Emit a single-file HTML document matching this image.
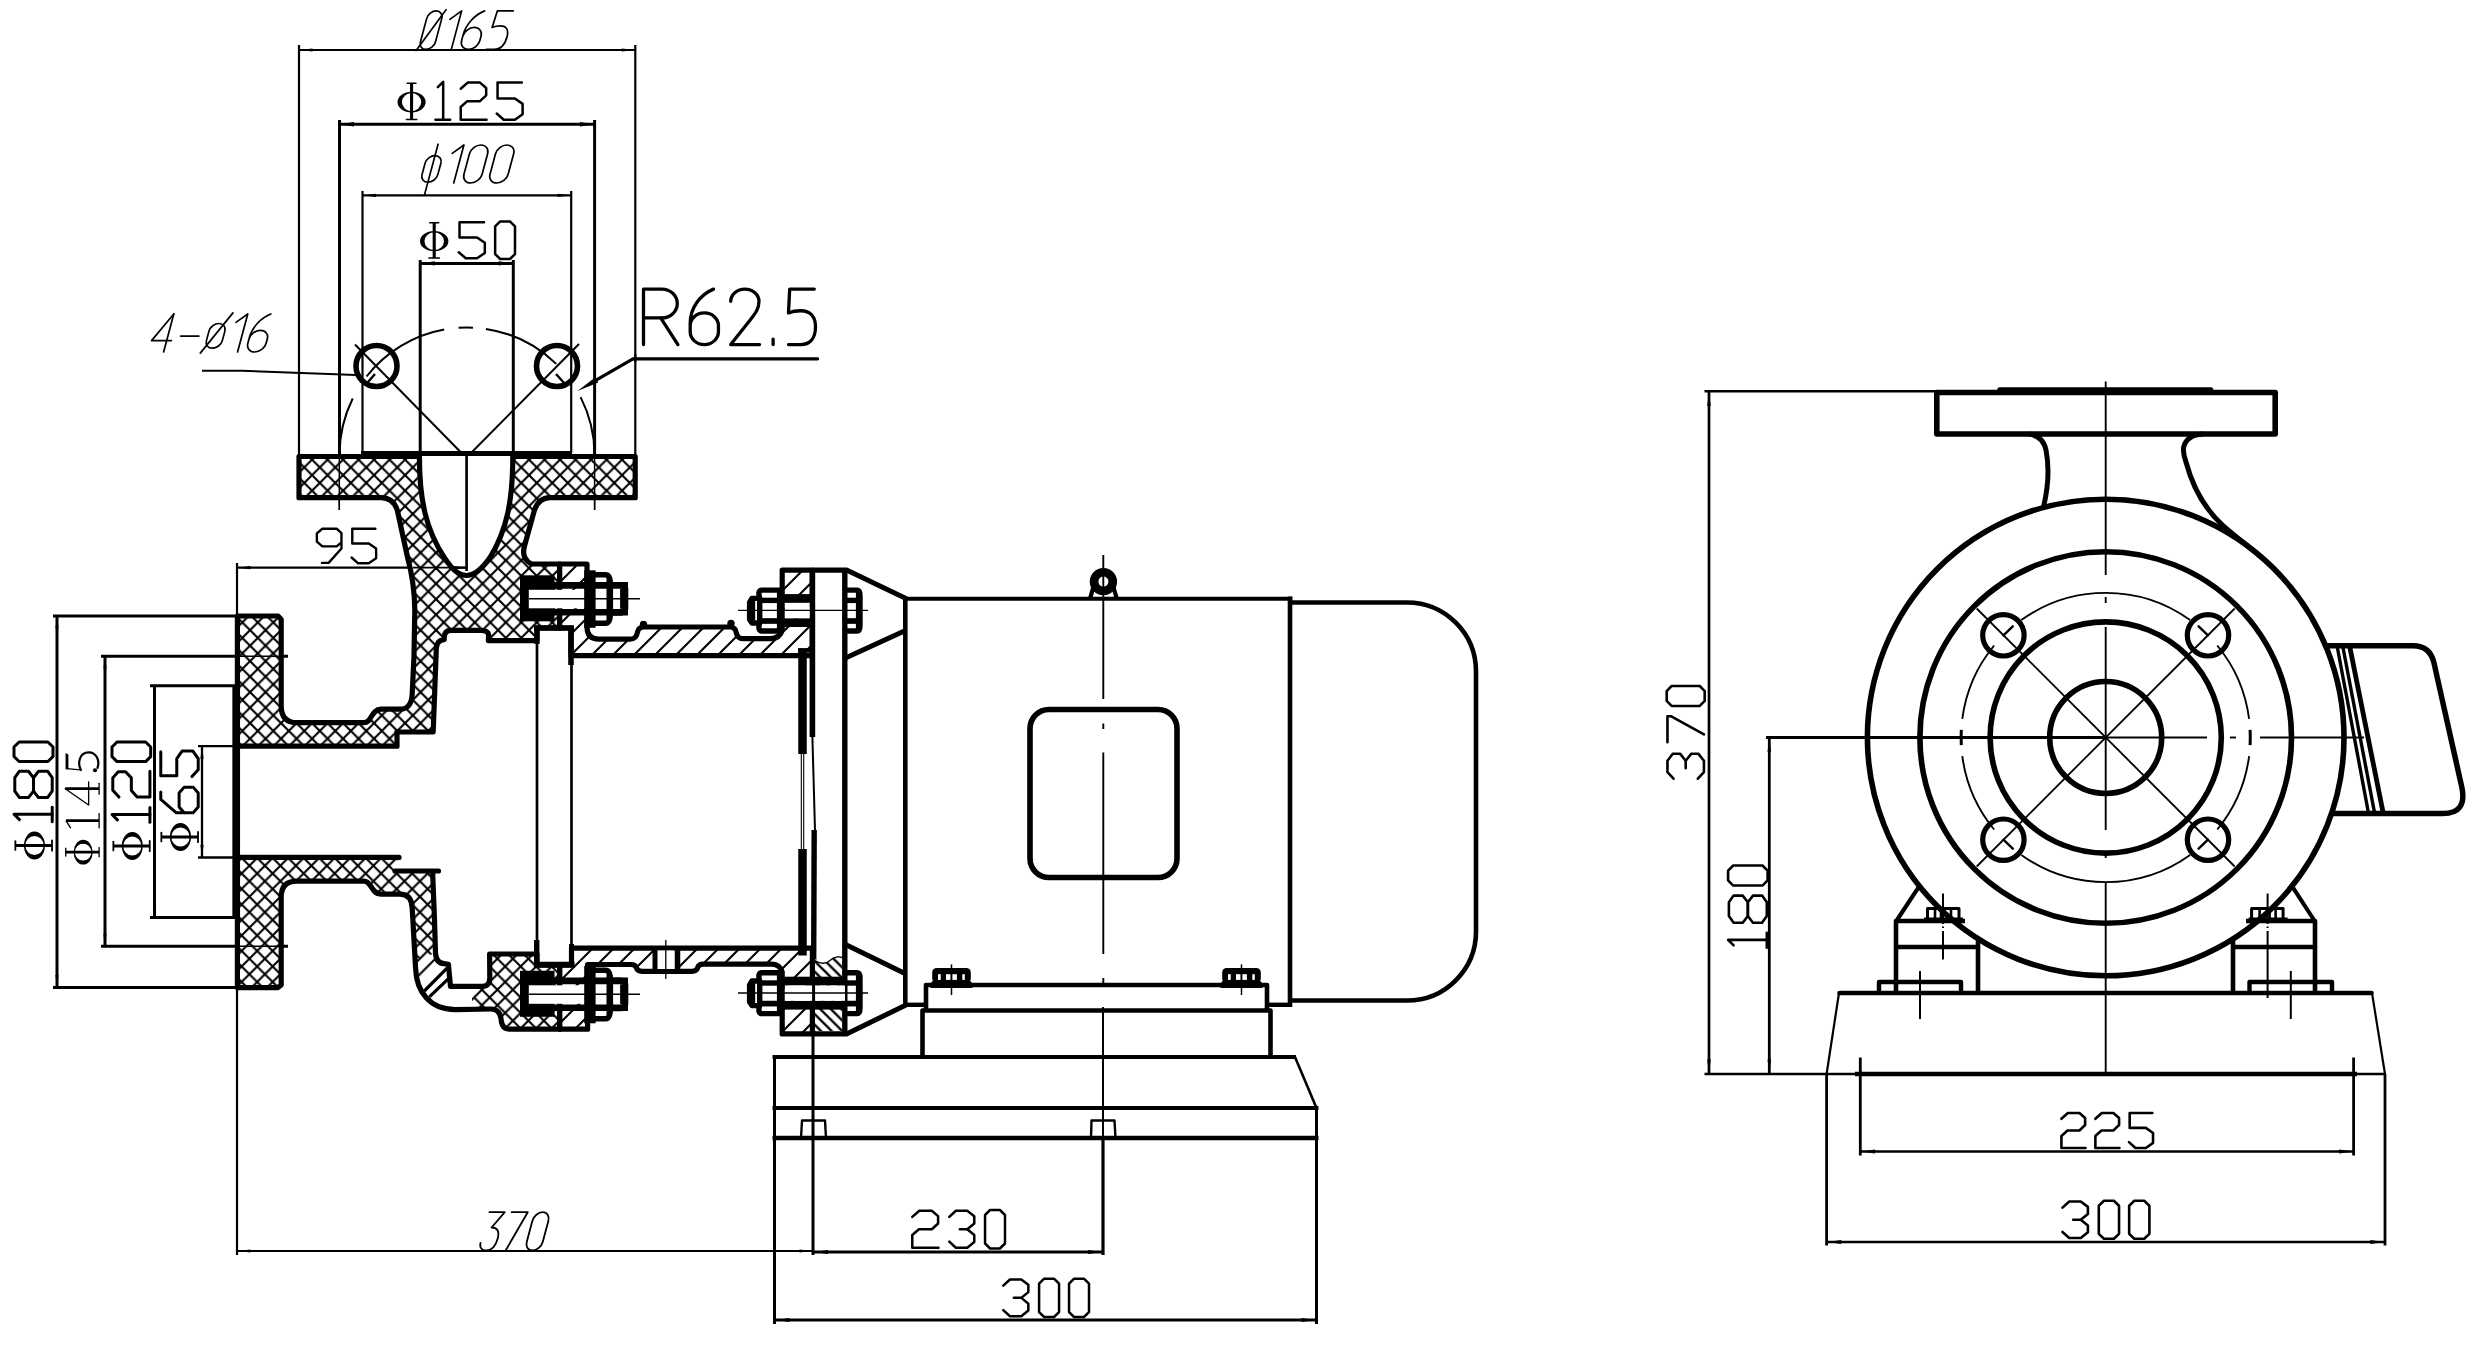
<!DOCTYPE html>
<html><head><meta charset="utf-8"><title>Pump drawing</title>
<style>html,body{margin:0;padding:0;background:#fff;font-family:"Liberation Sans",sans-serif}svg{display:block}</style>
</head><body>
<svg width="2482" height="1360" viewBox="0 0 2482 1360">
<rect width="2482" height="1360" fill="#fff"/>
<defs><pattern id="xh" width="15.5" height="15.5" patternUnits="userSpaceOnUse" x="9.8" y="2.4"><rect width="15.5" height="15.5" fill="#fff"/><path d="M-1,16.5 L16.5,-1 M-1,1 L1,-1 M14.5,16.5 L16.5,14.5" stroke="#000" stroke-width="2.1" fill="none"/><path d="M-1,-1 L16.5,16.5 M14.5,-1 L16.5,1 M-1,14.5 L1,16.5" stroke="#000" stroke-width="2.1" fill="none"/></pattern><pattern id="sh" width="15.5" height="15.5" patternUnits="userSpaceOnUse" x="14.6" y="0"><rect width="15.5" height="15.5" fill="#fff"/><path d="M-1,16.5 L16.5,-1 M-1,1 L1,-1 M14.5,16.5 L16.5,14.5" stroke="#000" stroke-width="2.1" fill="none"/></pattern><pattern id="bh" width="15.5" height="15.5" patternUnits="userSpaceOnUse" x="3.7" y="0"><path d="M-1,-1 L16.5,16.5 M14.5,-1 L16.5,1 M-1,14.5 L1,16.5" stroke="#000" stroke-width="2.1" fill="none"/></pattern><pattern id="wh" width="21" height="21" patternUnits="userSpaceOnUse" x="8" y="0"><rect width="21" height="21" fill="#fff"/><path d="M-1,22 L22,-1 M-1,1 L1,-1 M20,22 L22,20" stroke="#000" stroke-width="2.1" fill="none"/></pattern><pattern id="rh" width="10.6" height="10.6" patternUnits="userSpaceOnUse" x="2" y="0"><rect width="10.6" height="10.6" fill="#fff"/><path d="M-1,-1 L11.6,11.6 M9.6,-1 L11.6,1 M-1,9.6 L1,11.6" stroke="#000" stroke-width="2.3" fill="none"/></pattern></defs>
<g stroke="#000" fill="none" stroke-linejoin="round">
<line x1="299" y1="45" x2="299" y2="455" stroke-width="2.2"/>
<line x1="635.3" y1="45" x2="635.3" y2="455" stroke-width="2.2"/>
<line x1="299" y1="50" x2="635.3" y2="50" stroke-width="2.2"/>
<path d="M299.5,50 L312.5,48.4 L312.5,51.6 Z" fill="#000" stroke="none"/>
<path d="M634.8,50 L621.8,51.6 L621.8,48.4 Z" fill="#000" stroke="none"/>
<line x1="339.5" y1="120" x2="339.5" y2="456" stroke-width="3"/>
<line x1="594.6" y1="120" x2="594.6" y2="456" stroke-width="3"/>
<line x1="339.3" y1="456" x2="339.3" y2="510" stroke-width="1.4"/>
<line x1="594.6" y1="456" x2="594.6" y2="510" stroke-width="1.4"/>
<line x1="339.5" y1="124.3" x2="594.6" y2="124.3" stroke-width="3"/>
<path d="M340,124.3 L354,122.1 L354,126.5 Z" fill="#000" stroke="none"/>
<path d="M594,124.3 L580,126.5 L580,122.1 Z" fill="#000" stroke="none"/>
<line x1="362.5" y1="191" x2="362.5" y2="453" stroke-width="2.2"/>
<line x1="571.2" y1="191" x2="571.2" y2="453" stroke-width="2.2"/>
<line x1="362.5" y1="195.3" x2="571.2" y2="195.3" stroke-width="2.2"/>
<path d="M363,195.3 L376,193.7 L376,196.9 Z" fill="#000" stroke="none"/>
<path d="M570.6,195.3 L557.6,196.9 L557.6,193.7 Z" fill="#000" stroke="none"/>
<line x1="420.2" y1="260" x2="420.2" y2="456" stroke-width="3"/>
<line x1="513.3" y1="260" x2="513.3" y2="456" stroke-width="3"/>
<line x1="420.2" y1="263.4" x2="513.3" y2="263.4" stroke-width="3"/>
<path d="M420.8,263.4 L434.8,261.2 L434.8,265.6 Z" fill="#000" stroke="none"/>
<path d="M512.7,263.4 L498.7,265.6 L498.7,261.2 Z" fill="#000" stroke="none"/>
<line x1="466.6" y1="456" x2="466.6" y2="571" stroke-width="2.2"/>
<g transform="matrix(39.6676 0 -10.3180 38.5000 428.318 10.900)" stroke-width="1.7" vector-effect="non-scaling-stroke" stroke-linejoin="round" stroke-linecap="round" fill="none">
<path transform="translate(0.0000 0)" d="M0.01,0.2 A0.19,0.2 0 0 1 0.39,0.2 L0.39,0.8 A0.19,0.2 0 0 1 0.01,0.8 Z" vector-effect="non-scaling-stroke"/>
<path transform="translate(0.0000 0)" d="M-0.04,1.03 L0.44,-0.03" vector-effect="non-scaling-stroke"/>
<path transform="translate(0.6000 0)" d="M0,0.22 L0.24,0 L0.24,1" vector-effect="non-scaling-stroke"/>
<path transform="translate(1.0400 0)" d="M0.38,0 C0.16,0.1 0,0.34 0,0.62 L0,0.77 A0.23,0.23 0 0 0 0.46,0.77 L0.46,0.66 A0.23,0.23 0 0 0 0,0.66" vector-effect="non-scaling-stroke"/>
<path transform="translate(1.7000 0)" d="M0.44,0 L0.04,0 L0.02,0.43 C0.08,0.4 0.14,0.39 0.22,0.39 C0.38,0.39 0.46,0.5 0.46,0.68 C0.46,0.9 0.36,1 0.22,1 L0.02,1" vector-effect="non-scaling-stroke"/>
</g>
<g transform="matrix(38.5561 0 0.0000 38.7000 397.500 81.800)" stroke-width="2.5" vector-effect="non-scaling-stroke" stroke-linejoin="round" stroke-linecap="round" fill="none">
<path transform="translate(0.0000 0)" d="M0,0.525 A0.365,0.27 0 1 0 0.73,0.525 A0.365,0.27 0 1 0 0,0.525 Z M0.115,0.525 A0.25,0.235 0 1 1 0.615,0.525 A0.25,0.235 0 1 1 0.115,0.525 Z" fill="#000" fill-rule="evenodd" stroke="none"/>
<path transform="translate(0.0000 0)" d="M0.325,0.03 L0.405,0.03 L0.405,0.98 L0.325,0.98 Z" fill="#000" fill-rule="evenodd" stroke="none"/>
<path transform="translate(0.0000 0)" d="M0.25,0.035 L0.48,0.035" stroke-width="1.5" vector-effect="non-scaling-stroke"/>
<path transform="translate(0.0000 0)" d="M0.23,0.975 L0.5,0.975" stroke-width="1.5" vector-effect="non-scaling-stroke"/>
<path transform="translate(0.9850 0)" d="M0.06,0.14 L0.2,0 L0.2,0.98" vector-effect="non-scaling-stroke"/>
<path transform="translate(0.9850 0)" d="M0,0.98 L0.38,0.98" vector-effect="non-scaling-stroke"/>
<path transform="translate(1.6200 0)" d="M0.02,0.18 L0.2,0.02 L0.52,0.02 L0.68,0.16 L0.68,0.35 L0.52,0.5 L0.19,0.5 L0.02,0.65 L0.02,0.98 L0.69,0.98" vector-effect="non-scaling-stroke"/>
<path transform="translate(2.5650 0)" d="M0.66,0.02 L0.03,0.02 L0.03,0.43 L0.48,0.43 L0.68,0.57 L0.68,0.84 L0.48,0.98 L0.19,0.98 L0.01,0.82" vector-effect="non-scaling-stroke"/>
</g>
<g transform="matrix(39.4618 0 -10.1840 38.0000 429.184 145.000)" stroke-width="1.7" vector-effect="non-scaling-stroke" stroke-linejoin="round" stroke-linecap="round" fill="none">
<path transform="translate(0.0000 0)" d="M0.02,0.48 A0.2,0.2 0 0 1 0.42,0.48 L0.42,0.78 A0.2,0.2 0 0 1 0.02,0.78 Z" vector-effect="non-scaling-stroke"/>
<path transform="translate(0.0000 0)" d="M0.22,-0.02 L0.22,1.3" vector-effect="non-scaling-stroke"/>
<path transform="translate(0.6400 0)" d="M0,0.22 L0.24,0 L0.24,1" vector-effect="non-scaling-stroke"/>
<path transform="translate(1.0800 0)" d="M0,0.23 A0.23,0.23 0 0 1 0.46,0.23 L0.46,0.77 A0.23,0.23 0 0 1 0,0.77 Z" vector-effect="non-scaling-stroke"/>
<path transform="translate(1.7400 0)" d="M0,0.23 A0.23,0.23 0 0 1 0.46,0.23 L0.46,0.77 A0.23,0.23 0 0 1 0,0.77 Z" vector-effect="non-scaling-stroke"/>
</g>
<g transform="matrix(38.9344 0 0.0000 37.6000 420.000 221.400)" stroke-width="2.5" vector-effect="non-scaling-stroke" stroke-linejoin="round" stroke-linecap="round" fill="none">
<path transform="translate(0.0000 0)" d="M0,0.525 A0.365,0.27 0 1 0 0.73,0.525 A0.365,0.27 0 1 0 0,0.525 Z M0.115,0.525 A0.25,0.235 0 1 1 0.615,0.525 A0.25,0.235 0 1 1 0.115,0.525 Z" fill="#000" fill-rule="evenodd" stroke="none"/>
<path transform="translate(0.0000 0)" d="M0.325,0.03 L0.405,0.03 L0.405,0.98 L0.325,0.98 Z" fill="#000" fill-rule="evenodd" stroke="none"/>
<path transform="translate(0.0000 0)" d="M0.25,0.035 L0.48,0.035" stroke-width="1.5" vector-effect="non-scaling-stroke"/>
<path transform="translate(0.0000 0)" d="M0.23,0.975 L0.5,0.975" stroke-width="1.5" vector-effect="non-scaling-stroke"/>
<path transform="translate(0.9850 0)" d="M0.66,0.02 L0.03,0.02 L0.03,0.43 L0.48,0.43 L0.68,0.57 L0.68,0.84 L0.48,0.98 L0.19,0.98 L0.01,0.82" vector-effect="non-scaling-stroke"/>
<path transform="translate(1.9300 0)" d="M0.13,0 L0.38,0 L0.51,0.13 L0.51,0.87 L0.38,1 L0.13,1 L0,0.87 L0,0.13 Z" vector-effect="non-scaling-stroke"/>
</g>
<circle cx="376.5" cy="366" r="20.5" stroke-width="5.6" fill="none"/>
<circle cx="557" cy="366" r="20.5" stroke-width="5.6" fill="none"/>
<line x1="463" y1="454.5" x2="355" y2="344.5" stroke-width="2"/>
<line x1="469.5" y1="454.5" x2="579" y2="344" stroke-width="2"/>
<line x1="368" y1="382" x2="375" y2="374" stroke-width="2.4"/>
<line x1="556" y1="374" x2="565" y2="384" stroke-width="2.4"/>
<path d="M594.5,455 A127.5,127.5 0 0 0 580.6,397.12" stroke-width="2" fill="none"/>
<path d="M556.21,363.9 A127.5,127.5 0 0 0 485.85,328.9" stroke-width="2" fill="none"/>
<path d="M473.01,327.64 A127.5,127.5 0 0 0 458.55,327.78" stroke-width="2" fill="none"/>
<path d="M444.2,329.55 A127.5,127.5 0 0 0 366.53,376.5" stroke-width="2" fill="none"/>
<path d="M352.7,398.51 A127.5,127.5 0 0 0 339.5,455" stroke-width="2" fill="none"/>
<path d="M202,370.8 L242,370.8 L356,375" stroke-width="2" fill="none"/>
<g transform="matrix(39.7641 0 -10.1840 38.0000 158.684 314.000)" stroke-width="1.7" vector-effect="non-scaling-stroke" stroke-linejoin="round" stroke-linecap="round" fill="none">
<path transform="translate(0.0000 0)" d="M0.38,0 L0,0.7 L0.5,0.7" vector-effect="non-scaling-stroke"/>
<path transform="translate(0.0000 0)" d="M0.38,0 L0.38,1" vector-effect="non-scaling-stroke"/>
<path transform="translate(0.7000 0)" d="M0.0,0.58 L0.46,0.58" vector-effect="non-scaling-stroke"/>
<path transform="translate(1.3600 0)" d="M0.02,0.45 A0.2,0.2 0 0 1 0.42,0.45 L0.42,0.7 A0.2,0.2 0 0 1 0.02,0.7 Z" vector-effect="non-scaling-stroke"/>
<path transform="translate(1.3600 0)" d="M-0.05,1.03 L0.5,-0.03" vector-effect="non-scaling-stroke"/>
<path transform="translate(2.0000 0)" d="M0,0.22 L0.24,0 L0.24,1" vector-effect="non-scaling-stroke"/>
<path transform="translate(2.4400 0)" d="M0.38,0 C0.16,0.1 0,0.34 0,0.62 L0,0.77 A0.23,0.23 0 0 0 0.46,0.77 L0.46,0.66 A0.23,0.23 0 0 0 0,0.66" vector-effect="non-scaling-stroke"/>
</g>
<line x1="633" y1="358.8" x2="817.6" y2="358.8" stroke-width="3.2" stroke-linecap="round"/>
<line x1="633" y1="358.8" x2="590" y2="383.6" stroke-width="3.2"/>
<path d="M577.5,391 L595.3,377.2 L598.3,382.4 Z" fill="#000" stroke="none"/>
<line x1="635.3" y1="354" x2="635.3" y2="362" stroke-width="2.2"/>
<g transform="matrix(61.4286 0 0.0000 55.5000 643.500 289.100)" stroke-width="3.3" vector-effect="non-scaling-stroke" stroke-linejoin="round" stroke-linecap="round" fill="none">
<path transform="translate(0.0000 0)" d="M0,1 L0,0 L0.3,0 A0.25,0.26 0 0 1 0.3,0.52 L0,0.52" vector-effect="non-scaling-stroke"/>
<path transform="translate(0.0000 0)" d="M0.28,0.52 L0.56,1" vector-effect="non-scaling-stroke"/>
<path transform="translate(0.7600 0)" d="M0.38,0 C0.16,0.1 0,0.34 0,0.62 L0,0.77 A0.23,0.23 0 0 0 0.46,0.77 L0.46,0.66 A0.23,0.23 0 0 0 0,0.66" vector-effect="non-scaling-stroke"/>
<path transform="translate(1.4200 0)" d="M0,0.22 A0.23,0.22 0 0 1 0.46,0.22 C0.46,0.36 0.4,0.44 0.3,0.58 L0,1 L0.47,1" vector-effect="non-scaling-stroke"/>
<path transform="translate(2.0800 0)" d="M0.03,0.9 L0.03,1" vector-effect="non-scaling-stroke"/>
<path transform="translate(2.3400 0)" d="M0.44,0 L0.04,0 L0.02,0.43 C0.08,0.4 0.14,0.39 0.22,0.39 C0.38,0.39 0.46,0.5 0.46,0.68 C0.46,0.9 0.36,1 0.22,1 L0.02,1" vector-effect="non-scaling-stroke"/>
</g>
<line x1="237" y1="563" x2="237" y2="614" stroke-width="2.2"/>
<line x1="237" y1="567.7" x2="466" y2="567.7" stroke-width="2.2"/>
<path d="M237.5,567.7 L250.5,566.1 L250.5,569.3 Z" fill="#000" stroke="none"/>
<path d="M465.5,567.7 L452.5,569.3 L452.5,566.1 Z" fill="#000" stroke="none"/>
<g transform="matrix(36.6972 0 0.0000 36.0000 316.500 528.000)" stroke-width="2.4" vector-effect="non-scaling-stroke" stroke-linejoin="round" stroke-linecap="round" fill="none">
<path transform="translate(0.0000 0)" d="M0.68,0.4 L0.55,0.51 L0.16,0.51 L0.01,0.38 L0.01,0.15 L0.16,0.02 L0.55,0.02 L0.68,0.14 L0.68,0.57 L0.33,0.97 L0.15,0.97" vector-effect="non-scaling-stroke"/>
<path transform="translate(0.9450 0)" d="M0.66,0.02 L0.03,0.02 L0.03,0.43 L0.48,0.43 L0.68,0.57 L0.68,0.84 L0.48,0.98 L0.19,0.98 L0.01,0.82" vector-effect="non-scaling-stroke"/>
</g>
<line x1="57" y1="616" x2="57" y2="987.6" stroke-width="3"/>
<line x1="53" y1="616" x2="236" y2="616" stroke-width="3"/>
<line x1="53" y1="987.6" x2="236" y2="987.6" stroke-width="3"/>
<path d="M57,616.5 L58.6,628.5 L55.4,628.5 Z" fill="#000" stroke="none"/>
<path d="M57,987.1 L55.4,975.1 L58.6,975.1 Z" fill="#000" stroke="none"/>
<line x1="105" y1="656.3" x2="105" y2="946.3" stroke-width="3"/>
<line x1="101" y1="656.3" x2="288" y2="656.3" stroke-width="3"/>
<line x1="101" y1="946.3" x2="288" y2="946.3" stroke-width="3"/>
<path d="M105,656.8 L106.6,668.8 L103.4,668.8 Z" fill="#000" stroke="none"/>
<path d="M105,945.8 L103.4,933.8 L106.6,933.8 Z" fill="#000" stroke="none"/>
<line x1="154.5" y1="685.8" x2="154.5" y2="917.6" stroke-width="3"/>
<line x1="150" y1="685.8" x2="236" y2="685.8" stroke-width="3"/>
<line x1="150" y1="917.6" x2="236" y2="917.6" stroke-width="3"/>
<path d="M154.5,686.3 L156.1,698.3 L152.9,698.3 Z" fill="#000" stroke="none"/>
<path d="M154.5,917.1 L152.9,905.1 L156.1,905.1 Z" fill="#000" stroke="none"/>
<line x1="202" y1="746.2" x2="202" y2="857.5" stroke-width="2.3"/>
<line x1="198" y1="746.2" x2="236" y2="746.2" stroke-width="2.3"/>
<line x1="198" y1="857.5" x2="236" y2="857.5" stroke-width="2.3"/>
<path d="M202,746.7 L203.6,758.7 L200.4,758.7 Z" fill="#000" stroke="none"/>
<path d="M202,857 L200.4,845 L203.6,845 Z" fill="#000" stroke="none"/>
<g transform="rotate(-90 53 859.5) matrix(38.2114 0 0.0000 39.0000 53.000 820.500)" stroke-width="3" vector-effect="non-scaling-stroke" stroke-linejoin="round" stroke-linecap="round" fill="none">
<path transform="translate(0.0000 0)" d="M0,0.525 A0.365,0.27 0 1 0 0.73,0.525 A0.365,0.27 0 1 0 0,0.525 Z M0.115,0.525 A0.25,0.235 0 1 1 0.615,0.525 A0.25,0.235 0 1 1 0.115,0.525 Z" fill="#000" fill-rule="evenodd" stroke="none"/>
<path transform="translate(0.0000 0)" d="M0.325,0.03 L0.405,0.03 L0.405,0.98 L0.325,0.98 Z" fill="#000" fill-rule="evenodd" stroke="none"/>
<path transform="translate(0.0000 0)" d="M0.25,0.035 L0.48,0.035" stroke-width="1.8" vector-effect="non-scaling-stroke"/>
<path transform="translate(0.0000 0)" d="M0.23,0.975 L0.5,0.975" stroke-width="1.8" vector-effect="non-scaling-stroke"/>
<path transform="translate(0.9850 0)" d="M0.06,0.14 L0.2,0 L0.2,0.98" vector-effect="non-scaling-stroke"/>
<path transform="translate(0.9850 0)" d="M0,0.98 L0.38,0.98" vector-effect="non-scaling-stroke"/>
<path transform="translate(1.6200 0)" d="M0.17,0.02 L0.52,0.02 L0.69,0.14 L0.69,0.37 L0.52,0.5 L0.17,0.5 L0,0.37 L0,0.14 Z" vector-effect="non-scaling-stroke"/>
<path transform="translate(1.6200 0)" d="M0.17,0.5 L0.52,0.5 L0.69,0.63 L0.69,0.86 L0.52,0.98 L0.17,0.98 L0,0.86 L0,0.63 Z" vector-effect="non-scaling-stroke"/>
<path transform="translate(2.5650 0)" d="M0.13,0 L0.38,0 L0.51,0.13 L0.51,0.87 L0.38,1 L0.13,1 L0,0.87 L0,0.13 Z" vector-effect="non-scaling-stroke"/>
</g>
<g transform="rotate(-90 100 864.5) matrix(33.8301 0 0.0000 35.5000 100.000 829.000)" stroke-width="2.2" vector-effect="non-scaling-stroke" stroke-linejoin="round" stroke-linecap="round" fill="none">
<path transform="translate(0.0000 0)" d="M0,0.525 A0.365,0.27 0 1 0 0.73,0.525 A0.365,0.27 0 1 0 0,0.525 Z M0.115,0.525 A0.25,0.235 0 1 1 0.615,0.525 A0.25,0.235 0 1 1 0.115,0.525 Z" fill="#000" fill-rule="evenodd" stroke="none"/>
<path transform="translate(0.0000 0)" d="M0.325,0.03 L0.405,0.03 L0.405,0.98 L0.325,0.98 Z" fill="#000" fill-rule="evenodd" stroke="none"/>
<path transform="translate(0.0000 0)" d="M0.25,0.035 L0.48,0.035" stroke-width="1.32" vector-effect="non-scaling-stroke"/>
<path transform="translate(0.0000 0)" d="M0.23,0.975 L0.5,0.975" stroke-width="1.32" vector-effect="non-scaling-stroke"/>
<path transform="translate(0.9850 0)" d="M0.27,0.04 L0.35,0.04 L0.35,0.97 L0.27,0.97 Z" fill="#000" fill-rule="evenodd" stroke="none"/>
<path transform="translate(0.9850 0)" d="M0.1,0.17 L0.3,0.05" stroke-width="1.32" vector-effect="non-scaling-stroke"/>
<path transform="translate(0.9850 0)" d="M0.1,0.975 L0.52,0.975" stroke-width="1.32" vector-effect="non-scaling-stroke"/>
<path transform="translate(1.7400 0)" d="M0.46,0.02 L0.54,0.02 L0.54,0.97 L0.46,0.97 Z" fill="#000" fill-rule="evenodd" stroke="none"/>
<path transform="translate(1.7400 0)" d="M0.5,0.02 L0.02,0.68 L0.7,0.68" stroke-width="1.32" vector-effect="non-scaling-stroke"/>
<path transform="translate(1.7400 0)" d="M0.34,0.975 L0.66,0.975" stroke-width="1.32" vector-effect="non-scaling-stroke"/>
<path transform="translate(2.6950 0)" d="M0.12,0.03 L0.6,0.03 L0.56,0.11 L0.12,0.11 Z" fill="#000" fill-rule="evenodd" stroke="none"/>
<path transform="translate(2.6950 0)" d="M0.14,0.06 L0.1,0.46" stroke-width="1.32" vector-effect="non-scaling-stroke"/>
<path transform="translate(2.6950 0)" d="M0.1,0.46 C0.3,0.36 0.62,0.42 0.62,0.68 C0.62,0.9 0.38,1.0 0.16,0.93" vector-effect="non-scaling-stroke"/>
<path transform="translate(2.6950 0)" d="M0.03,0.86 A0.06,0.06 0 1 0 0.15,0.86 A0.06,0.06 0 1 0 0.03,0.86 Z" fill="#000" fill-rule="evenodd" stroke="none"/>
</g>
<g transform="rotate(-90 150.7 860) matrix(38.3740 0 0.0000 38.7000 150.700 821.300)" stroke-width="3" vector-effect="non-scaling-stroke" stroke-linejoin="round" stroke-linecap="round" fill="none">
<path transform="translate(0.0000 0)" d="M0,0.525 A0.365,0.27 0 1 0 0.73,0.525 A0.365,0.27 0 1 0 0,0.525 Z M0.115,0.525 A0.25,0.235 0 1 1 0.615,0.525 A0.25,0.235 0 1 1 0.115,0.525 Z" fill="#000" fill-rule="evenodd" stroke="none"/>
<path transform="translate(0.0000 0)" d="M0.325,0.03 L0.405,0.03 L0.405,0.98 L0.325,0.98 Z" fill="#000" fill-rule="evenodd" stroke="none"/>
<path transform="translate(0.0000 0)" d="M0.25,0.035 L0.48,0.035" stroke-width="1.8" vector-effect="non-scaling-stroke"/>
<path transform="translate(0.0000 0)" d="M0.23,0.975 L0.5,0.975" stroke-width="1.8" vector-effect="non-scaling-stroke"/>
<path transform="translate(0.9850 0)" d="M0.06,0.14 L0.2,0 L0.2,0.98" vector-effect="non-scaling-stroke"/>
<path transform="translate(0.9850 0)" d="M0,0.98 L0.38,0.98" vector-effect="non-scaling-stroke"/>
<path transform="translate(1.6200 0)" d="M0.02,0.18 L0.2,0.02 L0.52,0.02 L0.68,0.16 L0.68,0.35 L0.52,0.5 L0.19,0.5 L0.02,0.65 L0.02,0.98 L0.69,0.98" vector-effect="non-scaling-stroke"/>
<path transform="translate(2.5650 0)" d="M0.13,0 L0.38,0 L0.51,0.13 L0.51,0.87 L0.38,1 L0.13,1 L0,0.87 L0,0.13 Z" vector-effect="non-scaling-stroke"/>
</g>
<g transform="rotate(-90 199 851) matrix(38.3588 0 0.0000 39.0000 199.000 812.000)" stroke-width="3" vector-effect="non-scaling-stroke" stroke-linejoin="round" stroke-linecap="round" fill="none">
<path transform="translate(0.0000 0)" d="M0,0.525 A0.365,0.27 0 1 0 0.73,0.525 A0.365,0.27 0 1 0 0,0.525 Z M0.115,0.525 A0.25,0.235 0 1 1 0.615,0.525 A0.25,0.235 0 1 1 0.115,0.525 Z" fill="#000" fill-rule="evenodd" stroke="none"/>
<path transform="translate(0.0000 0)" d="M0.325,0.03 L0.405,0.03 L0.405,0.98 L0.325,0.98 Z" fill="#000" fill-rule="evenodd" stroke="none"/>
<path transform="translate(0.0000 0)" d="M0.25,0.035 L0.48,0.035" stroke-width="1.8" vector-effect="non-scaling-stroke"/>
<path transform="translate(0.0000 0)" d="M0.23,0.975 L0.5,0.975" stroke-width="1.8" vector-effect="non-scaling-stroke"/>
<path transform="translate(0.9850 0)" d="M0.55,0.02 L0.36,0.02 L0.01,0.42 L0.01,0.85 L0.16,0.98 L0.53,0.98 L0.68,0.85 L0.68,0.62 L0.53,0.49 L0.16,0.49 L0.01,0.62" vector-effect="non-scaling-stroke"/>
<path transform="translate(1.9300 0)" d="M0.66,0.02 L0.03,0.02 L0.03,0.43 L0.48,0.43 L0.68,0.57 L0.68,0.84 L0.48,0.98 L0.19,0.98 L0.01,0.82" vector-effect="non-scaling-stroke"/>
</g>
<line x1="237" y1="988" x2="237" y2="1255" stroke-width="2.2"/>
<line x1="237" y1="1251" x2="813" y2="1251" stroke-width="2.2"/>
<path d="M237.5,1251 L250.5,1249.4 L250.5,1252.6 Z" fill="#000" stroke="none"/>
<path d="M812.5,1251 L799.5,1252.6 L799.5,1249.4 Z" fill="#000" stroke="none"/>
<g transform="matrix(34.7953 0 -10.2644 38.3000 488.764 1212.200)" stroke-width="1.8" vector-effect="non-scaling-stroke" stroke-linejoin="round" stroke-linecap="round" fill="none">
<path transform="translate(0.0000 0)" d="M0.02,0 L0.46,0 L0.2,0.4 C0.36,0.4 0.46,0.5 0.46,0.68 C0.46,0.9 0.36,1 0.22,1 C0.1,1 0,0.93 0,0.8" vector-effect="non-scaling-stroke"/>
<path transform="translate(0.6600 0)" d="M0,0 L0.46,0 L0.12,1" vector-effect="non-scaling-stroke"/>
<path transform="translate(1.3200 0)" d="M0,0.23 A0.23,0.23 0 0 1 0.46,0.23 L0.46,0.77 A0.23,0.23 0 0 1 0,0.77 Z" vector-effect="non-scaling-stroke"/>
</g>
<line x1="813" y1="1252" x2="1103" y2="1252" stroke-width="2.8"/>
<path d="M814,1252 L828,1250 L828,1254 Z" fill="#000" stroke="none"/>
<path d="M1102,1252 L1088,1254 L1088,1250 Z" fill="#000" stroke="none"/>
<g transform="matrix(39.1213 0 0.0000 38.5000 911.500 1210.000)" stroke-width="2.5" vector-effect="non-scaling-stroke" stroke-linejoin="round" stroke-linecap="round" fill="none">
<path transform="translate(0.0000 0)" d="M0.02,0.18 L0.2,0.02 L0.52,0.02 L0.68,0.16 L0.68,0.35 L0.52,0.5 L0.19,0.5 L0.02,0.65 L0.02,0.98 L0.69,0.98" vector-effect="non-scaling-stroke"/>
<path transform="translate(0.9450 0)" d="M0.02,0.18 L0.19,0.02 L0.48,0.02 L0.66,0.16 L0.66,0.35 L0.48,0.5 L0.29,0.5" vector-effect="non-scaling-stroke"/>
<path transform="translate(0.9450 0)" d="M0.48,0.5 L0.66,0.65 L0.66,0.83 L0.48,0.98 L0.19,0.98 L0.02,0.82" vector-effect="non-scaling-stroke"/>
<path transform="translate(1.8800 0)" d="M0.13,0 L0.38,0 L0.51,0.13 L0.51,0.87 L0.38,1 L0.13,1 L0,0.87 L0,0.13 Z" vector-effect="non-scaling-stroke"/>
</g>
<line x1="774.5" y1="1320" x2="1316.5" y2="1320" stroke-width="2.8"/>
<path d="M775.5,1320 L789.5,1318 L789.5,1322 Z" fill="#000" stroke="none"/>
<path d="M1315.5,1320 L1301.5,1322 L1301.5,1318 Z" fill="#000" stroke="none"/>
<g transform="matrix(39.1403 0 0.0000 38.3000 1002.500 1278.700)" stroke-width="2.5" vector-effect="non-scaling-stroke" stroke-linejoin="round" stroke-linecap="round" fill="none">
<path transform="translate(0.0000 0)" d="M0.02,0.18 L0.19,0.02 L0.48,0.02 L0.66,0.16 L0.66,0.35 L0.48,0.5 L0.29,0.5" vector-effect="non-scaling-stroke"/>
<path transform="translate(0.0000 0)" d="M0.48,0.5 L0.66,0.65 L0.66,0.83 L0.48,0.98 L0.19,0.98 L0.02,0.82" vector-effect="non-scaling-stroke"/>
<path transform="translate(0.9350 0)" d="M0.13,0 L0.38,0 L0.51,0.13 L0.51,0.87 L0.38,1 L0.13,1 L0,0.87 L0,0.13 Z" vector-effect="non-scaling-stroke"/>
<path transform="translate(1.7000 0)" d="M0.13,0 L0.38,0 L0.51,0.13 L0.51,0.87 L0.38,1 L0.13,1 L0,0.87 L0,0.13 Z" vector-effect="non-scaling-stroke"/>
</g>
<path d="M237.4,616 L278,616 L281.2,619.5 L281.2,706 Q281.2,722.7 297,722.7 L364,722.7 C372,722.7 371,709.2 381,709.2 L400,709.2 Q411.5,709.2 412.2,694 L414,656 L414.8,610 C414.5,585 411,570 407.6,557.6 L397.4,510.6 Q393.5,498 381,497.7 L299,497.7 L299,456.5 L419.4,456.5 C419.4,500 426,530 444.4,557.6 C452,569 458,575.5 466.5,575.5 C475,575.5 482,569 490,557.6 C507,530 512.8,500 512.8,456.5 L635.2,456.5 L635.2,497.7 L550,497.7 Q538.5,498 534.3,510.6 L524.5,546 Q521,558 531,563.8 L559.7,564 L559.7,628 L537,628 L537,640.6 L488.4,640.6 L488.6,635 Q488,630.3 481,630.3 L451,630.3 Q444.6,630.3 444.3,637 L444.2,639.6 Q436.8,640 436.3,648.5 L433.2,732 L397,732 L397,746.2 L237.4,746.2 Z" fill="url(#xh)" stroke-width="5.2" stroke-linejoin="round"/>
<line x1="361" y1="453.6" x2="572" y2="453.6" stroke-width="5"/>
<path d="M237.4,857.4 L399,857.4 L394.4,871 L432.6,871 L434.5,920 L435.5,953 Q436,963 444,963.6 L448.4,964.3 L450.5,986.4 L482,986.4 Q489.6,986.4 489.8,978 L489.6,954 L537,954 L537,964.8 L559.8,964.8 L559.8,1029.2 L510,1029.2 Q502,1029.2 501.2,1020 Q500,1009 491,1009 L455,1009.6 C430,1009.6 416.5,992 415.6,968.5 L412.2,908 Q411.5,894.2 400,894.2 L381,894.2 C371,894.2 372,881.2 364,881.2 L297,881.2 Q281.2,881.2 281.2,897 L281.2,985 L278,987.6 L237.4,987.6 Z" fill="#fff" stroke="none"/>
<clipPath id="cl0"><path d="M230,840 L600,840 L600,1040 L472,1040 L472,933 L365,1040 L230,1040 Z"/></clipPath>
<g clip-path="url(#cl0)"><path d="M237.4,857.4 L399,857.4 L394.4,871 L432.6,871 L434.5,920 L435.5,953 Q436,963 444,963.6 L448.4,964.3 L450.5,986.4 L482,986.4 Q489.6,986.4 489.8,978 L489.6,954 L537,954 L537,964.8 L559.8,964.8 L559.8,1029.2 L510,1029.2 Q502,1029.2 501.2,1020 Q500,1009 491,1009 L455,1009.6 C430,1009.6 416.5,992 415.6,968.5 L412.2,908 Q411.5,894.2 400,894.2 L381,894.2 C371,894.2 372,881.2 364,881.2 L297,881.2 Q281.2,881.2 281.2,897 L281.2,985 L278,987.6 L237.4,987.6 Z" fill="url(#sh)" stroke="none"/></g>
<clipPath id="cl1"><path d="M230,850 L440,850 L440,952 L405,962 L405,1000 L230,1000 Z M474,1012 L474,950 L565,950 L565,1035 L474,1035 Z"/></clipPath>
<g clip-path="url(#cl1)"><path d="M237.4,857.4 L399,857.4 L394.4,871 L432.6,871 L434.5,920 L435.5,953 Q436,963 444,963.6 L448.4,964.3 L450.5,986.4 L482,986.4 Q489.6,986.4 489.8,978 L489.6,954 L537,954 L537,964.8 L559.8,964.8 L559.8,1029.2 L510,1029.2 Q502,1029.2 501.2,1020 Q500,1009 491,1009 L455,1009.6 C430,1009.6 416.5,992 415.6,968.5 L412.2,908 Q411.5,894.2 400,894.2 L381,894.2 C371,894.2 372,881.2 364,881.2 L297,881.2 Q281.2,881.2 281.2,897 L281.2,985 L278,987.6 L237.4,987.6 Z" fill="url(#bh)" stroke="none"/></g>
<path d="M399,857.4 L237.4,857.4 L237.4,987.6 L278,987.6 L281.2,985 L281.2,897 Q281.2,881.2 297,881.2 L364,881.2 C372,881.2 371,894.2 381,894.2 L400,894.2 Q411.5,894.2 412.2,908 L415.6,968.5 C416.5,992 430,1009.6 455,1009.6 L491,1009 Q500,1009 501.2,1020 Q502,1029.2 510,1029.2 L559.8,1029.2 L559.8,964.8 L537,964.8 L537,954 L489.6,954 L489.8,978 Q489.6,986.4 482,986.4 L450.5,986.4 L448.4,964.3 L444,963.6 Q436,963 435.5,953 L434.5,920 L432.6,871 M395,871 L438.5,871" fill="none" stroke-width="5.2" stroke-linejoin="round" stroke-linecap="round"/>
<line x1="424.3" y1="991" x2="447" y2="968.2" stroke-width="3.2"/>
<line x1="429.4" y1="996.9" x2="449.5" y2="977.6" stroke-width="3.2"/>
<line x1="339.3" y1="456" x2="339.3" y2="510" stroke-width="1.5"/>
<line x1="594.6" y1="456" x2="594.6" y2="510" stroke-width="1.5"/>
<line x1="237" y1="656.3" x2="288" y2="656.3" stroke-width="1.6"/>
<line x1="237" y1="946.3" x2="288" y2="946.3" stroke-width="1.6"/>
<line x1="466.6" y1="456" x2="466.6" y2="571" stroke-width="2.2"/>
<line x1="413" y1="567.7" x2="466" y2="567.7" stroke-width="1.8"/>
<path d="M465.5,567.7 L452.5,569.3 L452.5,566.1 Z" fill="#000" stroke="none"/>
<line x1="236.2" y1="685" x2="236.2" y2="919" stroke-width="7.7"/>
<path d="M559.7,564 L587,564 L587,627 Q587,639.2 599,639.2 L630,639.2 Q636.5,639.2 637.5,632 Q638.5,627 644,627 L730,627 Q735.5,627 736.3,633 Q737.5,638.7 743,638.7 L770,638.7 Q780,638.7 782.2,630 L782.2,570.1 L812.4,570.1 L812.4,655.6 L571,655.6 L571,628 L559.7,628 Z" fill="url(#wh)" stroke-width="5.2" stroke-linejoin="round"/>
<circle cx="643.5" cy="624.5" r="2.2" stroke-width="3" fill="#000"/>
<circle cx="731" cy="623.5" r="2.2" stroke-width="3" fill="#000"/>
<path d="M559.8,964.8 L571.5,964.8 L571.5,948.2 L812.4,948.2 L812.4,1033.9 L782.2,1033.9 L782.2,972 Q780,964.2 771,964.2 L703,964.2 Q698.5,964.2 697.5,968 Q696.5,971.3 692,971.3 L642,971.3 Q637.5,971.3 636.5,968 Q635.5,964.5 631,964.5 L587.6,964.5 L587.6,1029.2 L559.8,1029.2 Z" fill="url(#wh)" stroke-width="5.2" stroke-linejoin="round"/>
<rect x="655" y="950.5" width="22.5" height="18.5" stroke-width="0" fill="#fff" stroke="none"/>
<line x1="655" y1="948" x2="655" y2="972" stroke-width="5"/>
<line x1="677.5" y1="948" x2="677.5" y2="972" stroke-width="5.5"/>
<line x1="665.8" y1="940" x2="665.8" y2="979" stroke-width="1.3"/>
<line x1="537" y1="628" x2="537" y2="644" stroke-width="5.2"/>
<line x1="571" y1="628" x2="571" y2="665" stroke-width="5.6"/>
<line x1="537" y1="644" x2="537" y2="954" stroke-width="2.7"/>
<line x1="571.5" y1="660" x2="571.5" y2="950" stroke-width="2.7"/>
<line x1="534" y1="628" x2="574" y2="628" stroke-width="5.6"/>
<line x1="536.7" y1="940" x2="536.7" y2="966" stroke-width="5.4"/>
<line x1="571.5" y1="944" x2="571.5" y2="966" stroke-width="5"/>
<line x1="534" y1="964.8" x2="574.5" y2="964.8" stroke-width="6"/>
<rect x="520" y="575.3" width="34.5" height="46" stroke-width="0" fill="#000" stroke="none"/>
<rect x="528.8" y="589.8" width="56" height="18.5" stroke-width="0" fill="#fff" stroke="none"/>
<line x1="526" y1="585.4" x2="628" y2="585.4" stroke-width="6.6"/>
<line x1="526" y1="612.2" x2="628" y2="612.2" stroke-width="6.6"/>
<rect x="584.2" y="570.3" width="11.4" height="57.5" stroke-width="0" fill="#000" stroke="none"/>
<path d="M595,574.8 L605.5,574.8 Q610.4,574.8 610.4,584.8 L610.4,612.8 Q610.4,623.3 605.5,623.3 L595,623.3" stroke-width="5.4" fill="none"/>
<line x1="608.5" y1="577.8" x2="608.5" y2="619.8" stroke-width="4"/>
<path d="M611,584.5 L621.5,584.5 L625.7,588.8 L625.7,608.8 L621.5,613.1 L611,613.1" stroke-width="5.2" fill="none"/>
<line x1="622.6" y1="588.8" x2="622.6" y2="608.8" stroke-width="5"/>
<line x1="529" y1="598.8" x2="640" y2="598.8" stroke-width="1.4"/>
<rect x="520" y="970.8" width="34.5" height="46" stroke-width="0" fill="#000" stroke="none"/>
<rect x="528.8" y="985.3" width="56" height="18.5" stroke-width="0" fill="#fff" stroke="none"/>
<line x1="526" y1="980.9" x2="628" y2="980.9" stroke-width="6.6"/>
<line x1="526" y1="1007.7" x2="628" y2="1007.7" stroke-width="6.6"/>
<rect x="584.2" y="965.8" width="11.4" height="57.5" stroke-width="0" fill="#000" stroke="none"/>
<path d="M595,970.3 L605.5,970.3 Q610.4,970.3 610.4,980.3 L610.4,1008.3 Q610.4,1018.8 605.5,1018.8 L595,1018.8" stroke-width="5.4" fill="none"/>
<line x1="608.5" y1="973.3" x2="608.5" y2="1015.3" stroke-width="4"/>
<path d="M611,980 L621.5,980 L625.7,984.3 L625.7,1004.3 L621.5,1008.6 L611,1008.6" stroke-width="5.2" fill="none"/>
<line x1="622.6" y1="984.3" x2="622.6" y2="1004.3" stroke-width="5"/>
<line x1="529" y1="994.3" x2="640" y2="994.3" stroke-width="1.4"/>
<path d="M812.4,570.1 L847,570.1 M844.8,570.1 L844.8,1033.9 M812.4,1033.9 L847,1033.9" stroke-width="5.4" fill="none"/>
<line x1="812.4" y1="570" x2="812.4" y2="737" stroke-width="5.6"/>
<line x1="812.4" y1="737" x2="815" y2="830" stroke-width="2"/>
<line x1="814.2" y1="830" x2="813.4" y2="1034" stroke-width="5.4"/>
<line x1="802.5" y1="648.4" x2="802.5" y2="754" stroke-width="8.5"/>
<line x1="802.5" y1="849" x2="802.5" y2="955.6" stroke-width="8.5"/>
<line x1="798" y1="650.4" x2="812.4" y2="650.4" stroke-width="4.5"/>
<line x1="801.3" y1="754" x2="801.3" y2="849" stroke-width="1.1"/>
<line x1="803.7" y1="754" x2="803.7" y2="849" stroke-width="1.1"/>
<path d="M815,959 C820,964 826,964 830,960.5 C834,956 840,956 842,958.5 L842,1031 L815,1031 Z" fill="url(#rh)" stroke="none"/>
<path d="M812,959 C820,964.5 826,964 830,960.5 C834,956.5 840,956 845,958.5" stroke-width="1.4" fill="none"/>
<line x1="846" y1="569.8" x2="906" y2="598.6" stroke-width="5"/>
<line x1="846" y1="657.8" x2="906" y2="630.2" stroke-width="5"/>
<line x1="846" y1="1034.2" x2="906" y2="1005" stroke-width="5"/>
<line x1="846" y1="944.8" x2="906" y2="974" stroke-width="5"/>
<rect x="782" y="594.1" width="30" height="8.8" stroke-width="0" fill="#000" stroke="none"/>
<rect x="782" y="618.2" width="30" height="8.8" stroke-width="0" fill="#000" stroke="none"/>
<rect x="784.9" y="602.9" width="24.7" height="15.3" stroke-width="0" fill="#fff" stroke="none"/>
<path d="M782,590.1 L762,590.1 Q757.3,590.1 759.7,598.4 L759.7,622.4 Q757.3,631 762,631 L782,631" stroke-width="5.4" fill="none"/>
<line x1="757" y1="600.4" x2="782" y2="600.4" stroke-width="5.4"/>
<line x1="757" y1="621" x2="782" y2="621" stroke-width="5.7"/>
<line x1="779.6" y1="590.4" x2="779.6" y2="630.4" stroke-width="5.4"/>
<path d="M758,598.4 L752,598.4 L749.6,602.4 L749.6,619.4 L752,623 L758,623" stroke-width="5.4" fill="none"/>
<line x1="753.2" y1="600.4" x2="753.2" y2="620.4" stroke-width="4"/>
<path d="M847,590.1 L857,590.1 Q860,590.1 860,595.4 L860,625.4 Q860,631 857,631 L847,631" stroke-width="5.4" fill="none"/>
<line x1="847" y1="600.4" x2="860" y2="600.4" stroke-width="5.4"/>
<line x1="847" y1="621" x2="860" y2="621" stroke-width="5.7"/>
<line x1="858.4" y1="590.4" x2="858.4" y2="630.4" stroke-width="5"/>
<line x1="738" y1="610.4" x2="868" y2="610.4" stroke-width="1.4"/>
<rect x="782" y="976.7" width="63" height="8.8" stroke-width="0" fill="#000" stroke="none"/>
<rect x="782" y="1000.8" width="63" height="8.8" stroke-width="0" fill="#000" stroke="none"/>
<rect x="784.9" y="985.5" width="60.1" height="15.3" stroke-width="0" fill="#fff" stroke="none"/>
<line x1="813.6" y1="985" x2="813.6" y2="1001" stroke-width="3"/>
<path d="M782,972.7 L762,972.7 Q757.3,972.7 759.7,981 L759.7,1005 Q757.3,1013.6 762,1013.6 L782,1013.6" stroke-width="5.4" fill="none"/>
<line x1="757" y1="983" x2="782" y2="983" stroke-width="5.4"/>
<line x1="757" y1="1003.6" x2="782" y2="1003.6" stroke-width="5.7"/>
<line x1="779.6" y1="973" x2="779.6" y2="1013" stroke-width="5.4"/>
<path d="M758,981 L752,981 L749.6,985 L749.6,1002 L752,1005.6 L758,1005.6" stroke-width="5.4" fill="none"/>
<line x1="753.2" y1="983" x2="753.2" y2="1003" stroke-width="4"/>
<path d="M847,972.7 L857,972.7 Q860,972.7 860,978 L860,1008 Q860,1013.6 857,1013.6 L847,1013.6" stroke-width="5.4" fill="none"/>
<line x1="847" y1="983" x2="860" y2="983" stroke-width="5.4"/>
<line x1="847" y1="1003.6" x2="860" y2="1003.6" stroke-width="5.7"/>
<line x1="858.4" y1="973" x2="858.4" y2="1013" stroke-width="5"/>
<line x1="738" y1="993" x2="868" y2="993" stroke-width="1.4"/>
<path d="M905.3,596.6 L905.3,1004.8 M1290,596.6 L1290,1007" stroke-width="4.6" fill="none"/>
<line x1="903" y1="598.8" x2="1292.3" y2="598.8" stroke-width="3.9"/>
<line x1="903" y1="1004.8" x2="926" y2="1004.8" stroke-width="4.4"/>
<line x1="1267" y1="1004.8" x2="1292" y2="1004.8" stroke-width="4.4"/>
<path d="M1290,602.5 L1407,602.5 A69,69 0 0 1 1476,671.5 L1476,931.5 A69,69 0 0 1 1407,1000.5 L1290,1000.5" stroke-width="4.6" fill="none"/>
<rect x="1030" y="709.5" width="147" height="168" stroke-width="5.6" fill="none" rx="19"/>
<circle cx="1103.4" cy="581.6" r="9.35" stroke-width="8.7" fill="none"/>
<line x1="1093.2" y1="587.5" x2="1090" y2="599" stroke-width="4.3"/>
<line x1="1113.5" y1="587.5" x2="1116.9" y2="599" stroke-width="4.3"/>
<line x1="1103.3" y1="555" x2="1103.3" y2="699" stroke-width="1.9"/>
<line x1="1103.3" y1="723.5" x2="1103.3" y2="729" stroke-width="1.9"/>
<line x1="1103.3" y1="752.5" x2="1103.3" y2="954" stroke-width="1.9"/>
<line x1="1103.3" y1="978" x2="1103.3" y2="983.5" stroke-width="1.9"/>
<line x1="1103" y1="1007" x2="1103" y2="1138" stroke-width="2"/>
<line x1="1103" y1="1138" x2="1103" y2="1255" stroke-width="3.2"/>
<path d="M926,1010.5 L926,985 L1267,985 L1267,1010.5" stroke-width="4.6" fill="none"/>
<path d="M922.5,1058 L922.5,1010.5 L1270.5,1010.5 L1270.5,1058" stroke-width="4.6" fill="none"/>
<rect x="932.2" y="968" width="38.6" height="15" stroke-width="0" fill="#000" rx="4.5" stroke="none"/>
<path d="M930.5,988 L930.5,983.5 L933.5,980 L969.5,980 L972.5,983.5 L972.5,988 Z" fill="#000" stroke="none"/>
<rect x="938" y="974.2" width="2.7" height="5.7" stroke-width="0" fill="#fff" stroke="none"/>
<rect x="946" y="974.2" width="4.6" height="5.7" stroke-width="0" fill="#fff" stroke="none"/>
<rect x="952.2" y="974.2" width="4.7" height="5.7" stroke-width="0" fill="#fff" stroke="none"/>
<rect x="962.3" y="974.2" width="2.5" height="5.7" stroke-width="0" fill="#fff" stroke="none"/>
<line x1="951.5" y1="964.4" x2="951.5" y2="995" stroke-width="1.5"/>
<rect x="1222.2" y="968" width="38.6" height="15" stroke-width="0" fill="#000" rx="4.5" stroke="none"/>
<path d="M1220.5,988 L1220.5,983.5 L1223.5,980 L1259.5,980 L1262.5,983.5 L1262.5,988 Z" fill="#000" stroke="none"/>
<rect x="1228" y="974.2" width="2.7" height="5.7" stroke-width="0" fill="#fff" stroke="none"/>
<rect x="1236" y="974.2" width="4.6" height="5.7" stroke-width="0" fill="#fff" stroke="none"/>
<rect x="1242.2" y="974.2" width="4.7" height="5.7" stroke-width="0" fill="#fff" stroke="none"/>
<rect x="1252.3" y="974.2" width="2.5" height="5.7" stroke-width="0" fill="#fff" stroke="none"/>
<line x1="1241.5" y1="964.4" x2="1241.5" y2="995" stroke-width="1.5"/>
<line x1="772.5" y1="1057" x2="1296" y2="1057" stroke-width="4.2"/>
<line x1="1295" y1="1057" x2="1316.5" y2="1108" stroke-width="2.6"/>
<line x1="772.5" y1="1108" x2="1318.5" y2="1108" stroke-width="4.2"/>
<line x1="772.5" y1="1138" x2="1318.5" y2="1138" stroke-width="4.4"/>
<line x1="774.5" y1="1057" x2="774.5" y2="1324" stroke-width="3"/>
<line x1="1316.5" y1="1108" x2="1316.5" y2="1324" stroke-width="3"/>
<path d="M801,1138 L802,1120.5 L825,1120.5 L826,1138" stroke-width="2.4" fill="none"/>
<path d="M1091,1138 L1091.5,1120.5 L1114.5,1120.5 L1115.5,1138" stroke-width="2.4" fill="none"/>
<line x1="813" y1="1034" x2="813" y2="1255" stroke-width="3"/>
<rect x="1936.8" y="392.5" width="338.4" height="41.5" stroke-width="5.6" fill="none"/>
<line x1="1999.5" y1="389.6" x2="2211" y2="389.6" stroke-width="4.5" stroke-linecap="round"/>
<path d="M2029,434 Q2043,436 2046,450 Q2051,476 2043.5,507" stroke-width="5" fill="none"/>
<path d="M2203,434 Q2186,435 2183.5,448 Q2183,454 2186,462 C2194,492 2208,512 2223,525.6 C2238,539 2258.7,553.9 2271.6,566.4" stroke-width="5" fill="none"/>
<circle cx="2105.7" cy="737.5" r="238.3" stroke-width="5.6" fill="none"/>
<circle cx="2105.7" cy="737.5" r="185.8" stroke-width="5.6" fill="none"/>
<circle cx="2105.7" cy="737.5" r="115.6" stroke-width="5.6" fill="none"/>
<circle cx="2105.7" cy="737.5" r="56" stroke-width="5.6" fill="none"/>
<path d="M2249.1,718.88 A144.6,144.6 0 0 0 2217.28,645.52" stroke-width="1.9" fill="none"/>
<path d="M2190.08,620.07 A144.6,144.6 0 0 0 2021.32,620.07" stroke-width="1.9" fill="none"/>
<path d="M1994.12,645.52 A144.6,144.6 0 0 0 1962.3,718.88" stroke-width="1.9" fill="none"/>
<path d="M1961.3,729.93 A144.6,144.6 0 0 0 1961.3,745.07" stroke-width="3" fill="none"/>
<path d="M1962.3,756.12 A144.6,144.6 0 0 0 1994.12,829.48" stroke-width="1.9" fill="none"/>
<path d="M2021.32,854.93 A144.6,144.6 0 0 0 2190.08,854.93" stroke-width="1.9" fill="none"/>
<path d="M2217.28,829.48 A144.6,144.6 0 0 0 2249.1,756.12" stroke-width="1.9" fill="none"/>
<path d="M2250.1,745.07 A144.6,144.6 0 0 0 2250.1,729.93" stroke-width="3" fill="none"/>
<circle cx="2003.4" cy="635.3" r="20.7" stroke-width="5.2" fill="none"/>
<line x1="2003.4" y1="635.3" x2="2012.8" y2="626.3" stroke-width="2.4" stroke-linecap="round"/>
<circle cx="2003.4" cy="839.7" r="20.7" stroke-width="5.2" fill="none"/>
<line x1="2003.4" y1="839.7" x2="2012.8" y2="848.7" stroke-width="2.4" stroke-linecap="round"/>
<circle cx="2208" cy="635.3" r="20.7" stroke-width="5.2" fill="none"/>
<line x1="2208" y1="635.3" x2="2198.6" y2="626.3" stroke-width="2.4" stroke-linecap="round"/>
<circle cx="2208" cy="839.7" r="20.7" stroke-width="5.2" fill="none"/>
<line x1="2208" y1="839.7" x2="2198.6" y2="848.7" stroke-width="2.4" stroke-linecap="round"/>
<line x1="1976.7" y1="608.5" x2="2234.7" y2="866.5" stroke-width="1.8"/>
<line x1="1976.7" y1="866.5" x2="2234.7" y2="608.5" stroke-width="1.8"/>
<line x1="2105.7" y1="381.5" x2="2105.7" y2="575" stroke-width="1.9"/>
<line x1="2105.7" y1="597" x2="2105.7" y2="603" stroke-width="1.9"/>
<line x1="2105.7" y1="627" x2="2105.7" y2="830" stroke-width="1.9"/>
<line x1="2105.7" y1="855" x2="2105.7" y2="858" stroke-width="1.9"/>
<line x1="2105.7" y1="883" x2="2105.7" y2="1074" stroke-width="1.9"/>
<line x1="1766" y1="737.5" x2="2105.7" y2="737.5" stroke-width="3.1"/>
<line x1="2105.7" y1="737.5" x2="2207" y2="737.5" stroke-width="1.9"/>
<line x1="2230" y1="737.5" x2="2236" y2="737.5" stroke-width="1.9"/>
<line x1="2260" y1="737.5" x2="2364" y2="737.5" stroke-width="1.9"/>
<path d="M2325,645.8 L2413,645.8 Q2430,645.8 2434,663 L2462,788 Q2467,813.5 2443,813.5 L2333,813.5" stroke-width="5.5" fill="none"/>
<line x1="2337.3" y1="647" x2="2368.3" y2="812" stroke-width="3.4"/>
<line x1="2342.9" y1="647" x2="2374.4" y2="812" stroke-width="3.4"/>
<line x1="2349.8" y1="647" x2="2383" y2="812" stroke-width="4.8"/>
<path d="M1896,993 L1896,921 L1965,921" stroke-width="4.6" fill="none"/>
<line x1="1896" y1="947" x2="1978" y2="947" stroke-width="4.6"/>
<line x1="1978" y1="941" x2="1978" y2="993" stroke-width="4.6"/>
<line x1="1896" y1="921.5" x2="1918.3" y2="887.6" stroke-width="4.1"/>
<path d="M1879,993 L1879,982 L1961,982 L1961,993" stroke-width="4.4" fill="none"/>
<rect x="1924" y="917.5" width="39" height="5.5" stroke-width="0" fill="#000" stroke="none"/>
<path d="M1927.5,920 L1927.5,908.5 L1959,908.5 L1959,920" stroke-width="3" fill="none"/>
<line x1="1935" y1="908.5" x2="1935" y2="920" stroke-width="2.6"/>
<line x1="1941" y1="908.5" x2="1941" y2="920" stroke-width="2.6"/>
<line x1="1951" y1="908.5" x2="1951" y2="920" stroke-width="2.6"/>
<line x1="1943" y1="893.5" x2="1943" y2="924" stroke-width="2"/>
<line x1="1943" y1="926.5" x2="1943" y2="928" stroke-width="2"/>
<line x1="1943" y1="931" x2="1943" y2="959.5" stroke-width="2"/>
<line x1="1920" y1="971" x2="1920" y2="1019" stroke-width="2"/>
<path d="M2315,993 L2315,921 L2246,921" stroke-width="4.6" fill="none"/>
<line x1="2233" y1="947" x2="2315" y2="947" stroke-width="4.6"/>
<line x1="2233" y1="941" x2="2233" y2="993" stroke-width="4.6"/>
<line x1="2315" y1="921.5" x2="2293" y2="887.6" stroke-width="4.1"/>
<path d="M2249.5,993 L2249.5,982 L2332,982 L2332,993" stroke-width="4.4" fill="none"/>
<rect x="2248.6" y="917.5" width="39" height="5.5" stroke-width="0" fill="#000" stroke="none"/>
<path d="M2251.6,920 L2251.6,908.5 L2283.1,908.5 L2283.1,920" stroke-width="3" fill="none"/>
<line x1="2259.6" y1="908.5" x2="2259.6" y2="920" stroke-width="2.6"/>
<line x1="2269.6" y1="908.5" x2="2269.6" y2="920" stroke-width="2.6"/>
<line x1="2275.6" y1="908.5" x2="2275.6" y2="920" stroke-width="2.6"/>
<line x1="2267.6" y1="893.5" x2="2267.6" y2="924" stroke-width="2"/>
<line x1="2267.6" y1="926.5" x2="2267.6" y2="928" stroke-width="2"/>
<line x1="2267.6" y1="931" x2="2267.6" y2="998" stroke-width="2"/>
<line x1="2290.8" y1="971" x2="2290.8" y2="1019" stroke-width="2"/>
<line x1="1839.5" y1="993" x2="2371.5" y2="993" stroke-width="4.6" stroke-linecap="round"/>
<line x1="1839" y1="993" x2="1826.6" y2="1074" stroke-width="2.2"/>
<line x1="2372" y1="993" x2="2385" y2="1074" stroke-width="2.2"/>
<line x1="1704.5" y1="1074" x2="2386" y2="1074" stroke-width="2.5"/>
<line x1="1855" y1="1074" x2="2357" y2="1074" stroke-width="4.6"/>
<line x1="1826.6" y1="1074" x2="1826.6" y2="1245.5" stroke-width="2.8"/>
<line x1="2385" y1="1074" x2="2385" y2="1245.5" stroke-width="2.8"/>
<line x1="1860.3" y1="1057.5" x2="1860.3" y2="1155.5" stroke-width="2.8"/>
<line x1="2353.6" y1="1057.5" x2="2353.6" y2="1155.5" stroke-width="2.8"/>
<line x1="1860.3" y1="1151.5" x2="2353.6" y2="1151.5" stroke-width="2.7"/>
<path d="M1861,1151.5 L1875,1149.5 L1875,1153.5 Z" fill="#000" stroke="none"/>
<path d="M2353,1151.5 L2339,1153.5 L2339,1149.5 Z" fill="#000" stroke="none"/>
<line x1="1826.6" y1="1242" x2="2385" y2="1242" stroke-width="2.7"/>
<path d="M1827.3,1242 L1841.3,1240 L1841.3,1244 Z" fill="#000" stroke="none"/>
<path d="M2384.3,1242 L2370.3,1244 L2370.3,1240 Z" fill="#000" stroke="none"/>
<g transform="matrix(35.9302 0 0.0000 36.5000 2060.700 1112.200)" stroke-width="2.6" vector-effect="non-scaling-stroke" stroke-linejoin="round" stroke-linecap="round" fill="none">
<path transform="translate(0.0000 0)" d="M0.02,0.18 L0.2,0.02 L0.52,0.02 L0.68,0.16 L0.68,0.35 L0.52,0.5 L0.19,0.5 L0.02,0.65 L0.02,0.98 L0.69,0.98" vector-effect="non-scaling-stroke"/>
<path transform="translate(0.9450 0)" d="M0.02,0.18 L0.2,0.02 L0.52,0.02 L0.68,0.16 L0.68,0.35 L0.52,0.5 L0.19,0.5 L0.02,0.65 L0.02,0.98 L0.69,0.98" vector-effect="non-scaling-stroke"/>
<path transform="translate(1.8900 0)" d="M0.66,0.02 L0.03,0.02 L0.03,0.43 L0.48,0.43 L0.68,0.57 L0.68,0.84 L0.48,0.98 L0.19,0.98 L0.01,0.82" vector-effect="non-scaling-stroke"/>
</g>
<g transform="matrix(39.6833 0 0.0000 38.0000 2061.700 1200.800)" stroke-width="2.6" vector-effect="non-scaling-stroke" stroke-linejoin="round" stroke-linecap="round" fill="none">
<path transform="translate(0.0000 0)" d="M0.02,0.18 L0.19,0.02 L0.48,0.02 L0.66,0.16 L0.66,0.35 L0.48,0.5 L0.29,0.5" vector-effect="non-scaling-stroke"/>
<path transform="translate(0.0000 0)" d="M0.48,0.5 L0.66,0.65 L0.66,0.83 L0.48,0.98 L0.19,0.98 L0.02,0.82" vector-effect="non-scaling-stroke"/>
<path transform="translate(0.9350 0)" d="M0.13,0 L0.38,0 L0.51,0.13 L0.51,0.87 L0.38,1 L0.13,1 L0,0.87 L0,0.13 Z" vector-effect="non-scaling-stroke"/>
<path transform="translate(1.7000 0)" d="M0.13,0 L0.38,0 L0.51,0.13 L0.51,0.87 L0.38,1 L0.13,1 L0,0.87 L0,0.13 Z" vector-effect="non-scaling-stroke"/>
</g>
<line x1="1704.5" y1="391.3" x2="1937" y2="391.3" stroke-width="2.5"/>
<line x1="1709" y1="391.3" x2="1709" y2="1074" stroke-width="2.7"/>
<path d="M1709,392 L1710.8,406 L1707.2,406 Z" fill="#000" stroke="none"/>
<path d="M1709,1073.5 L1707.2,1059.5 L1710.8,1059.5 Z" fill="#000" stroke="none"/>
<line x1="1769.3" y1="737.5" x2="1769.3" y2="1074" stroke-width="2.8"/>
<path d="M1769.3,738 L1771.1,752 L1767.5,752 Z" fill="#000" stroke="none"/>
<path d="M1769.3,1073.5 L1767.5,1059.5 L1771.1,1059.5 Z" fill="#000" stroke="none"/>
<g transform="rotate(-90 1704.7 779.5) matrix(39.1213 0 0.0000 38.0000 1704.700 741.500)" stroke-width="2.6" vector-effect="non-scaling-stroke" stroke-linejoin="round" stroke-linecap="round" fill="none">
<path transform="translate(0.0000 0)" d="M0.02,0.18 L0.19,0.02 L0.48,0.02 L0.66,0.16 L0.66,0.35 L0.48,0.5 L0.29,0.5" vector-effect="non-scaling-stroke"/>
<path transform="translate(0.0000 0)" d="M0.48,0.5 L0.66,0.65 L0.66,0.83 L0.48,0.98 L0.19,0.98 L0.02,0.82" vector-effect="non-scaling-stroke"/>
<path transform="translate(0.9350 0)" d="M0.02,0.02 L0.68,0.02 L0.68,0.12 L0.22,0.98" vector-effect="non-scaling-stroke"/>
<path transform="translate(1.8800 0)" d="M0.13,0 L0.38,0 L0.51,0.13 L0.51,0.87 L0.38,1 L0.13,1 L0,0.87 L0,0.13 Z" vector-effect="non-scaling-stroke"/>
</g>
<g transform="rotate(-90 1767.6 947.7) matrix(39.3301 0 0.0000 39.5000 1767.600 908.200)" stroke-width="2.6" vector-effect="non-scaling-stroke" stroke-linejoin="round" stroke-linecap="round" fill="none">
<path transform="translate(0.0000 0)" d="M0.06,0.14 L0.2,0 L0.2,0.98" vector-effect="non-scaling-stroke"/>
<path transform="translate(0.0000 0)" d="M0,0.98 L0.38,0.98" vector-effect="non-scaling-stroke"/>
<path transform="translate(0.6350 0)" d="M0.17,0.02 L0.52,0.02 L0.69,0.14 L0.69,0.37 L0.52,0.5 L0.17,0.5 L0,0.37 L0,0.14 Z" vector-effect="non-scaling-stroke"/>
<path transform="translate(0.6350 0)" d="M0.17,0.5 L0.52,0.5 L0.69,0.63 L0.69,0.86 L0.52,0.98 L0.17,0.98 L0,0.86 L0,0.63 Z" vector-effect="non-scaling-stroke"/>
<path transform="translate(1.5800 0)" d="M0.13,0 L0.38,0 L0.51,0.13 L0.51,0.87 L0.38,1 L0.13,1 L0,0.87 L0,0.13 Z" vector-effect="non-scaling-stroke"/>
</g>
</g>
</svg>
</body></html>
